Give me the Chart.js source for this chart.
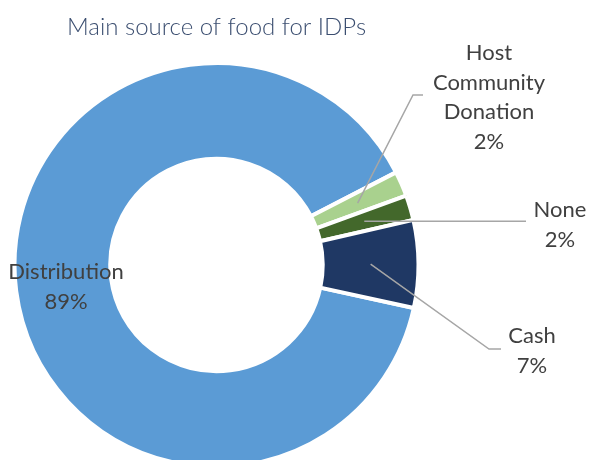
<!DOCTYPE html>
<html>
<head>
<meta charset="utf-8">
<title>Main source of food for IDPs</title>
<script src="https://cdn.jsdelivr.net/npm/chart.js@4"></script>
<style>
  html, body { margin: 0; padding: 0; background: #ffffff; }
  #wrap { width: 589px; height: 460px; }
</style>
</head>
<body>
<div id="wrap"><canvas id="chart" width="589" height="460"></canvas></div>
<script>
// Food source breakdown (percent of IDPs)
const categories = ['Distribution', 'Host Community Donation', 'None', 'Cash'];
const shares = [89, 2, 2, 7];
const sliceColors = ['#5B9BD5', '#A9D18E', '#43682B', '#1F3864'];

// How each category name is broken over lines in its label
const labelLines = [
  ['Distribution'],
  ['Host', 'Community', 'Donation'],
  ['None'],
  ['Cash']
];

// Label placement: text centre (first line) and leader line bends
const labelLayout = [
  { x: 66,  y: 272, leader: null },
  { x: 489, y: 53,  leader: [[413, 95], [423, 95]] },
  { x: 560, y: 210, leader: 'horizontal', endX: 526 },
  { x: 532, y: 336, leader: [[489, 349], [501, 349]] }
];

const LABEL_FONT = '22px Lato, "Open Sans", sans-serif';
const LINE_PITCH = 29.5;

const sliceLabels = {
  id: 'sliceLabels',
  afterDatasetsDraw(chart) {
    const ctx = chart.ctx;
    const meta = chart.getDatasetMeta(0);
    ctx.save();
    meta.data.forEach((arc, i) => {
      const p = arc.getProps(['x', 'y', 'startAngle', 'endAngle', 'innerRadius', 'outerRadius'], true);
      const mid = (p.startAngle + p.endAngle) / 2;
      const r = (p.innerRadius + p.outerRadius) / 2;
      const sx = p.x + Math.cos(mid) * r;
      const sy = p.y + Math.sin(mid) * r;
      const lay = labelLayout[i];

      // leader line from the middle of the ring out to the label
      if (lay.leader) {
        ctx.beginPath();
        ctx.strokeStyle = '#A6A6A6';
        ctx.lineWidth = 1.5;
        ctx.moveTo(sx, sy);
        if (lay.leader === 'horizontal') {
          ctx.lineTo(lay.endX, sy);
        } else {
          lay.leader.forEach(pt => ctx.lineTo(pt[0], pt[1]));
        }
        ctx.stroke();
      }

      const lines = labelLines[i].concat([shares[i] + '%']);
      ctx.font = LABEL_FONT;
      ctx.fillStyle = '#404040';
      ctx.textAlign = 'center';
      ctx.textBaseline = 'middle';
      lines.forEach((t, k) => ctx.fillText(t, lay.x, lay.y + k * LINE_PITCH));
    });
    ctx.restore();
  }
};

new Chart(document.getElementById('chart'), {
  type: 'doughnut',
  data: {
    labels: categories,
    datasets: [{
      data: shares,
      backgroundColor: sliceColors,
      borderColor: '#ffffff',
      borderWidth: 4,
      hoverOffset: 0
    }]
  },
  options: {
    responsive: false,
    devicePixelRatio: 1,
    animation: false,
    rotation: 102.3,
    radius: 202,
    cutout: 101.5,
    layout: { padding: { top: 0, left: 0, right: 156, bottom: 0 } },
    plugins: {
      legend: { display: false },
      tooltip: { enabled: false },
      title: {
        display: true,
        text: 'Main source of food for IDPs',
        color: '#3B4E70',
        font: { family: 'Lato, "Open Sans", sans-serif', size: 24, weight: 300, lineHeight: 1.2 },
        padding: { top: 12.6, bottom: 28.6 }
      }
    }
  },
  plugins: [sliceLabels]
});
</script>
</body>
</html>
